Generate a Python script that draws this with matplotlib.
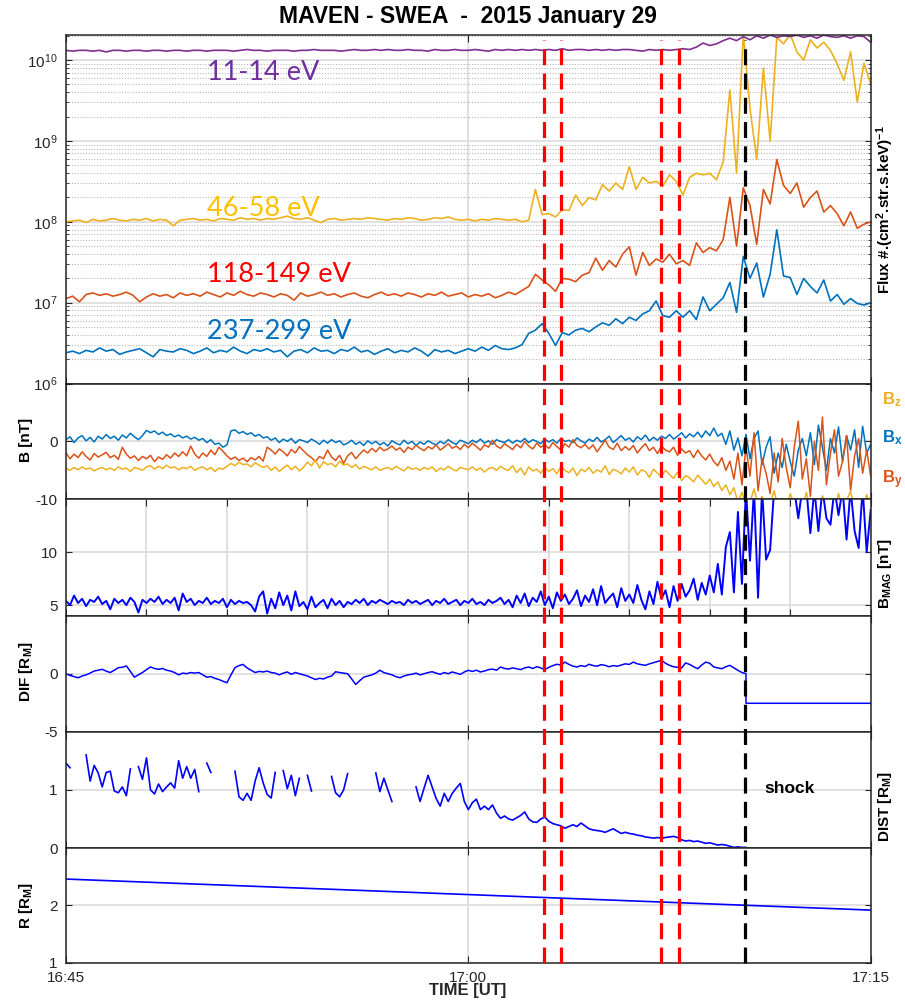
import numpy as np
import matplotlib

matplotlib.use("Agg")
import matplotlib.pyplot as plt
from matplotlib.lines import Line2D
from matplotlib.ticker import FixedLocator, FuncFormatter, LogLocator, LogFormatterMathtext, NullFormatter
from matplotlib.transforms import blended_transform_factory

plt.rcParams["font.family"] = ["Liberation Sans", "DejaVu Sans"]
plt.rcParams["mathtext.default"] = "regular"
plt.rcParams["axes.unicode_minus"] = False

# MATLAB default line colours
C_BLUE = "#0072BD"
C_ORANGE = "#D95319"
C_YELLOW = "#EDB120"
C_PURPLE = "#7E2F8E"
TEXT = "#262626"
GRID = "#dcdcdc"

START_MIN = 16 * 60 + 45   # 16:45 UT
SWEA_STEP = 0.25           # minutes between SWEA samples
MAG_STEP = 0.15            # minutes between MAG samples

# SWEA electron flux, log10 of #/(cm2 str s keV)
log_flux_237_299 = [
    6.38, 6.40, 6.37, 6.41, 6.39, 6.44, 6.40, 6.42, 6.36, 6.39,
    6.41, 6.43, 6.38, 6.33, 6.42, 6.40, 6.39, 6.43, 6.41, 6.37,
    6.40, 6.44, 6.38, 6.41, 6.39, 6.45, 6.40, 6.37, 6.42, 6.40,
    6.43, 6.39, 6.41, 6.33, 6.40, 6.42, 6.38, 6.44, 6.40, 6.41,
    6.37, 6.42, 6.40, 6.45, 6.39, 6.41, 6.36, 6.40, 6.43, 6.38,
    6.41, 6.39, 6.44, 6.40, 6.34, 6.42, 6.39, 6.41, 6.37, 6.40,
    6.43, 6.40, 6.45, 6.41, 6.47, 6.43, 6.42, 6.44, 6.48, 6.62,
    6.66, 6.74, 6.62, 6.47, 6.63, 6.60, 6.66, 6.68, 6.64, 6.70,
    6.75, 6.72, 6.80, 6.74, 6.82, 6.78, 6.86, 6.90, 7.02, 6.84,
    6.82, 6.90, 6.82, 6.90, 6.79, 7.07, 6.90, 6.98, 7.06, 7.25,
    6.88, 7.57, 7.30, 7.49, 7.07, 7.35, 7.90, 7.33, 7.31, 7.10,
    7.30, 7.20, 7.12, 7.28, 7.02, 7.10, 6.98, 7.05, 6.99, 6.97,
    7.00,
]
log_flux_118_149 = [
    7.05, 7.08, 7.01, 7.10, 7.12, 7.09, 7.11, 7.08, 7.10, 7.13,
    7.09, 7.01, 7.07, 7.11, 7.08, 7.10, 7.06, 7.12, 7.09, 7.11,
    7.08, 7.13, 7.10, 7.07, 7.12, 7.09, 7.14, 7.10, 7.08, 7.12,
    7.10, 7.07, 7.11, 7.09, 7.03, 7.12, 7.08, 7.10, 7.13, 7.09,
    7.11, 7.07, 7.10, 7.12, 7.08, 7.06, 7.10, 7.13, 7.09, 7.11,
    7.08, 7.12, 7.10, 7.07, 7.11, 7.09, 7.13, 7.08, 7.10, 7.12,
    7.07, 7.10, 7.08, 7.11, 7.06, 7.09, 7.13, 7.10, 7.15, 7.20,
    7.35, 7.28, 7.22, 7.14, 7.30, 7.29, 7.26, 7.34, 7.37, 7.55,
    7.40, 7.52, 7.44, 7.60, 7.69, 7.34, 7.62, 7.46, 7.54, 7.50,
    7.60, 7.48, 7.52, 7.46, 7.74, 7.62, 7.68, 7.64, 7.78, 8.30,
    7.70, 8.42, 8.20, 7.72, 8.40, 8.22, 8.77, 8.45, 8.35, 8.48,
    8.18, 8.30, 8.38, 8.12, 8.20, 8.10, 7.95, 8.12, 7.92, 7.97,
    8.00,
]
log_flux_46_58 = [
    8.00, 8.01, 8.02, 7.99, 8.03, 8.01, 8.02, 8.04, 8.02, 8.01,
    8.03, 8.02, 8.04, 8.01, 8.03, 8.02, 7.95, 8.02, 8.03, 8.04,
    8.02, 8.03, 8.01, 8.04, 8.03, 8.02, 8.05, 8.03, 8.04, 8.02,
    8.04, 8.03, 8.05, 8.07, 8.04, 8.03, 8.05, 8.02, 7.99, 8.03,
    8.04, 8.02, 8.03, 8.04, 8.03, 8.05, 8.04, 8.03, 8.02, 8.04,
    8.03, 8.05, 8.04, 8.02, 8.03, 8.05, 8.04, 8.06, 8.03, 8.02,
    8.03, 8.01, 8.03, 8.02, 8.04, 8.03, 8.02, 8.03, 8.00, 8.02,
    8.40, 8.09, 8.10, 8.06, 8.15, 8.14, 8.33, 8.20, 8.30, 8.27,
    8.46, 8.38, 8.48, 8.40, 8.68, 8.40, 8.55, 8.48, 8.50, 8.44,
    8.58, 8.50, 8.33, 8.55, 8.60, 8.58, 8.60, 8.52, 8.74, 9.63,
    8.60, 10.32, 9.40, 8.77, 9.90, 9.00, 10.28, 10.20, 10.32, 10.10,
    10.00, 10.25, 10.15, 10.22, 10.12, 9.95, 9.75, 10.10, 9.48, 9.96,
    9.70,
]
log_flux_11_14 = [
    10.12, 10.11, 10.12, 10.12, 10.11, 10.12, 10.10, 10.12, 10.12, 10.11,
    10.12, 10.12, 10.11, 10.12, 10.12, 10.11, 10.12, 10.12, 10.11, 10.12,
    10.12, 10.11, 10.12, 10.12, 10.12, 10.11, 10.12, 10.13, 10.12, 10.12,
    10.11, 10.12, 10.12, 10.12, 10.11, 10.12, 10.12, 10.13, 10.12, 10.12,
    10.12, 10.11, 10.12, 10.13, 10.12, 10.12, 10.13, 10.12, 10.13, 10.12,
    10.12, 10.13, 10.12, 10.12, 10.11, 10.13, 10.12, 10.12, 10.13, 10.12,
    10.12, 10.13, 10.12, 10.11, 10.13, 10.12, 10.13, 10.12, 10.13, 10.12,
    10.13, 10.12, 10.13, 10.12, 10.14, 10.12, 10.13, 10.13, 10.12, 10.13,
    10.12, 10.13, 10.12, 10.13, 10.13, 10.12, 10.11, 10.13, 10.12, 10.13,
    10.12, 10.13, 10.14, 10.13, 10.16, 10.21, 10.18, 10.20, 10.24, 10.27,
    10.24, 10.29, 10.25, 10.30, 10.27, 10.31, 10.28, 10.30, 10.29, 10.31,
    10.28, 10.30, 10.27, 10.31, 10.29, 10.28, 10.30, 10.27, 10.30, 10.29,
    10.22,
]
flux_series = [
    ("237-299 eV", log_flux_237_299, C_BLUE, "#0070C0", 6.64),
    ("118-149 eV", log_flux_118_149, C_ORANGE, "#FF0000", 7.35),
    ("46-58 eV", log_flux_46_58, C_YELLOW, "#FFC000", 8.17),
    ("11-14 eV", log_flux_11_14, C_PURPLE, "#7030A0", 9.85),
]

# MAG field components [nT]
bx = [
    0.3, 0.8, -0.2, 0.6, 1.0, 0.1, 0.7, -0.1, 0.9, 0.4,
    1.2, 0.5, 0.9, 0.2, 1.1, 0.6, 1.4, 0.8, 0.3, 1.0,
    1.9, 1.5, 1.8, 1.2, 1.6, 1.0, 1.3, 0.8, 1.1, 0.6,
    0.9, 0.4, 0.7, 0.2, 0.5, -0.2, 0.3, -0.5, -0.3, -1.0,
    -0.6, 1.8, 2.0, 1.4, 1.7, 1.2, 1.5, 0.9, 1.2, 0.6,
    0.8, 0.2, 0.6, -0.2, 0.4, 0.0, 0.5, -0.3, 0.3, 0.1,
    -0.2, 0.4, 0.0, -0.5, 0.2, -0.3, 0.3, -0.2, 0.1, -0.6,
    -0.3, 0.2, -0.5, -0.1, -0.7, 0.1, -0.4, 0.0, -0.6, -0.2,
    -0.8, 0.1, -0.3, -0.6, 0.2, -0.4, 0.0, -0.7, -0.1, -0.5,
    0.1, -0.3, -0.6, 0.0, -0.4, 0.3, -0.2, -0.5, 0.2, -0.1,
    -0.4, 0.2, -0.2, 0.4, -0.3, 0.1, -0.5, 0.3, 0.0, -0.2,
    0.3, -0.3, 0.2, -0.1, 0.5, -0.2, 0.3, 0.0, -0.4, 0.4,
    -0.1, 0.3, -0.3, 0.5, 0.0, 0.2, -0.2, 0.6, 0.1, -0.3,
    0.4, 0.0, 0.7, -0.1, 0.3, 0.9, -0.2, 0.4, 1.0, 0.2,
    0.6, -0.1, 0.8, 0.3, 1.1, 0.1, 0.7, 0.2, 0.9, 0.5,
    1.2, 0.4, 0.9, 1.5, 0.6, 1.3, 0.8, 1.6, 0.7, 1.8,
    1.0, 2.3, 0.9, 1.4, -0.5, 1.8, -1.5, 0.6, -2.5, 1.2,
    -3.0, 0.5, 1.8, -4.0, -1.0, 0.8, -5.5, -2.0, -4.5, -0.5,
    -3.5, -6.0, -1.5, 0.5, -2.5, 1.5, -4.0, 2.8, -1.0, -5.0,
    0.5, -2.0, 2.5, -3.5, 1.0, -1.5, 2.0, -4.5, 2.6, -2.0,
    -0.5,
]
by = [
    -2.0, -3.0, -2.2, -2.8, -1.8, -2.6, -3.2, -2.1, -2.7, -2.3,
    -1.9, -2.8, -2.4, -3.1, -1.0, -2.2, -2.9, -2.5, -3.3, -2.6,
    -3.0, -2.4, -3.5, -2.7, -3.1, -2.3, -2.9, -2.0, -2.6, -1.8,
    -2.5, -0.8, -2.2, -2.9, -2.0, -2.6, -1.5, -2.3, -1.0, -1.7,
    -2.5, -3.1, -2.7, -3.3, -2.9, -3.5, -2.8, -3.2, -2.6, -3.4,
    -1.0, -1.5, -2.2, -1.3, -1.8, -2.5, -1.4, -2.0, -0.9, -1.6,
    -2.3, -2.8, -3.5, -2.6, -3.0, -1.5, -2.7, -3.3, -2.4, -3.8,
    -2.5, -1.9, -3.0, -2.2, -1.5, -2.0, -1.2, -1.8, -1.0, -1.6,
    -1.3, -0.8, -1.5, -1.1, -1.9, -1.0, -1.4, -0.7, -1.2, -1.6,
    -0.9, -1.3, -0.6, -1.5, -1.0, -0.4, -1.2, -0.8, -1.4, -0.5,
    -1.1, -0.3, -0.9, -1.5, -0.6, -1.0, 0.2, -0.8, -1.2, -0.4,
    -0.9, -1.4, -0.5, -1.1, 0.0, -0.8, -1.3, -0.3, -1.0, -0.6,
    -1.2, -0.2, -0.9, -1.5, -0.4, -1.0, 0.3, -0.7, -1.1, -0.5,
    -1.3, -0.6, -1.8, -0.8, 0.2, -1.0, -1.4, -0.3, -1.6, -0.9,
    -1.5, -0.7, -2.0, -1.1, -0.4, -1.6, -1.0, -2.1, -0.8, -1.5,
    -1.8, -1.0, -2.4, -1.3, -2.0, -1.6, -2.8, -1.5, -2.5, -3.2,
    -2.2, -3.5, -4.2, -2.8, -5.0, -3.4, -6.5, -2.0, -7.5, -1.0,
    -6.0, 1.5, -8.5, -3.0, -5.5, -9.0, -2.0, -7.0, 0.5, -4.5,
    -8.0, -1.0, 3.5, -6.5, -3.0, -9.5, 0.0, -5.0, 4.2, -7.5,
    -2.0, 2.0, -6.0, -3.5, 1.0, -8.5, -2.5, 0.5, -5.5, -1.5,
    -6.0,
]
bz = [
    -4.6, -5.0, -4.5, -4.9, -4.4, -4.8, -4.6, -5.1, -4.7, -4.5,
    -4.9, -4.6, -5.0, -4.4, -4.8, -4.6, -5.2, -4.5, -4.7, -5.0,
    -4.4, -4.2, -4.8, -4.3, -4.7, -4.1, -4.6, -4.4, -4.9, -4.5,
    -4.7, -4.3, -5.0, -4.6, -4.4, -4.9, -4.5, -5.2, -4.6, -4.8,
    -4.3, -3.8, -4.2, -3.6, -4.0, -3.9, -4.4, -3.7, -4.1, -4.5,
    -4.2, -5.0, -4.4, -5.2, -4.6, -4.1, -4.9, -4.3, -5.1, -4.5,
    -3.6, -4.2, -3.2, -4.6, -3.5, -4.0, -3.8, -4.4, -3.4, -4.1,
    -3.9, -4.5, -4.0, -4.8, -4.3, -4.6, -4.9, -4.4, -5.0, -4.7,
    -4.5, -4.9, -4.3, -4.7, -5.1, -4.4, -4.8, -4.6, -5.0, -4.5,
    -4.8, -4.4, -5.2, -4.6, -4.9, -4.3, -4.8, -5.1, -4.5, -4.7,
    -4.9, -4.4, -5.0, -4.6, -5.3, -4.7, -4.5, -5.0, -4.3, -4.8,
    -5.0, -4.2, -5.4, -4.6, -5.8, -4.4, -5.1, -4.8, -5.5, -4.5,
    -5.2, -4.7, -5.6, -4.3, -5.0, -5.4, -4.6, -5.9, -4.8, -5.2,
    -4.5, -5.5, -4.9, -5.3, -4.2, -5.7, -4.8, -5.1, -5.6, -4.6,
    -5.3, -4.4, -5.8, -4.9, -5.2, -6.2, -4.8, -5.5, -6.0, -5.0,
    -5.7, -6.4, -5.3, -6.8, -5.9, -6.3, -7.0, -5.8, -6.6, -7.4,
    -6.5, -7.8, -7.0, -8.5, -7.5, -9.2, -8.0, -10.5, -8.8, -11.0,
    -10.5, -8.2, -11.0, -9.5, -12.0, -10.8, -8.5, -11.5, -10.2, -12.0,
    -9.0, -11.0, -10.5, -12.0, -8.8, -11.5, -10.3, -12.0, -9.4, -11.0,
    -10.5, -12.0, -9.0, -11.5, -10.2, -8.6, -11.8, -10.4, -12.0, -9.2,
    -11.0,
]
b_mag = [
    5.4, 5.0, 5.9, 5.2, 5.6, 4.9, 5.5, 5.3, 5.8, 5.1,
    5.4, 4.6, 5.6, 5.2, 5.5, 5.0, 5.7, 5.3, 4.3, 5.5,
    5.2, 5.6, 5.3, 5.8, 5.1, 5.5, 5.2, 5.7, 4.5, 6.1,
    5.3, 5.6, 5.0, 5.4, 5.2, 5.7, 5.1, 5.4, 5.2, 5.6,
    4.8, 5.5, 5.1, 5.4, 5.2, 5.3, 5.0, 4.4, 5.8, 6.3,
    4.2, 5.6, 4.7, 6.2, 5.0, 5.9, 4.5, 6.3, 4.9, 5.3,
    4.6, 5.8, 4.8, 5.2, 5.5, 4.7, 5.6, 5.0, 5.4, 4.8,
    5.3, 5.1, 5.5, 5.2, 5.6, 5.0, 5.4, 5.2, 5.5, 5.3,
    5.1, 5.4, 5.2, 5.3, 5.0, 5.5, 5.2, 5.4, 5.1, 5.3,
    5.5, 5.0, 5.4, 5.2, 5.6, 5.1, 5.3, 5.5, 5.0, 5.4,
    5.2, 5.6, 5.1, 5.3, 5.0, 5.5, 5.2, 5.4, 5.7, 5.1,
    5.5, 4.8, 5.9, 5.2, 6.1, 4.9, 5.7, 5.3, 6.3, 5.0,
    5.8, 4.7, 6.2, 5.4, 6.0, 5.1, 5.6, 6.4, 4.9, 5.9,
    5.3, 6.5, 5.0, 6.8, 5.2, 5.7, 6.1, 4.8, 6.6, 5.4,
    6.0, 5.2, 6.9, 5.5, 4.6, 6.3, 5.1, 7.2, 5.6, 6.4,
    4.8, 6.8, 5.4, 7.0, 5.8, 6.4, 7.5, 5.5, 7.1, 6.0,
    7.8, 6.2, 8.9, 6.0, 10.5, 11.9, 6.2, 13.8, 7.0, 16.0,
    9.2, 16.0, 5.7, 16.0, 9.3, 10.2, 16.0, 16.0, 16.0, 16.0,
    16.0, 16.0, 13.2, 16.0, 16.0, 11.8, 16.0, 12.0, 16.0, 13.2,
    12.6, 16.0, 13.5, 16.0, 11.2, 16.0, 12.0, 10.4, 16.0, 10.0,
    14.0,
]

# Model comparison, sampled on the MAG cadence up to the shock crossing [R_M]
dif = [
    0.00, -0.15, -0.25, -0.35, -0.20, -0.10, 0.05, 0.23, 0.30, 0.38,
    0.22, 0.10, 0.30, 0.52, 0.55, 0.67, 0.20, -0.30, -0.10, 0.10,
    0.35, 0.58, 0.45, 0.38, 0.45, 0.30, 0.23, 0.10, -0.10, 0.05,
    0.00, 0.10, 0.05, 0.10, -0.10, -0.30, -0.25, -0.40, -0.50, -0.65,
    -0.78, -0.10, 0.52, 0.70, 0.80, 0.50, 0.30, 0.10, 0.20, 0.15,
    0.23, 0.10, 0.05, -0.10, 0.05, 0.15, -0.05, 0.10, 0.00, -0.10,
    -0.20, -0.35, -0.50, -0.40, -0.45, -0.30, -0.20, 0.17, 0.10, 0.05,
    0.00, -0.45, -0.93, -0.60, -0.30, -0.20, -0.10, 0.05, 0.30, 0.10,
    0.00, -0.10, -0.25, -0.35, -0.20, -0.10, -0.05, 0.05, -0.10, 0.00,
    0.10, 0.17, 0.05, -0.05, 0.10, 0.00, 0.15, 0.05, -0.06, 0.15,
    0.29, 0.20, 0.30, 0.15, 0.23, 0.35, 0.40, 0.30, 0.58, 0.45,
    0.40, 0.50, 0.43, 0.35, 0.50, 0.58, 0.45, 0.60, 0.50, 0.35,
    0.55, 0.70, 0.81, 0.75, 1.00, 0.80, 0.65, 0.58, 0.70, 0.62,
    0.81, 0.70, 0.65, 0.78, 0.72, 0.60, 0.70, 0.64, 0.75, 0.85,
    0.80, 1.00, 0.85, 0.78, 0.72, 0.85, 0.95, 1.05, 1.16, 0.90,
    0.72, 0.60, 0.55, 0.49, 0.93, 0.80, 0.60, 0.43, 0.75, 1.00,
    0.90, 0.58, 0.50, 0.43, 0.60, 0.72, 0.50, 0.29, 0.10, 0.00,
]
dif_after_shock = -2.55
nan = np.nan
dist = [
    1.46, 1.38, nan, nan, nan, 1.60, 1.15, 1.42, 1.29, 1.05,
    1.30, 1.32, 0.98, 0.95, 1.05, 0.90, 1.36, nan, 1.40, 1.18,
    1.55, 1.00, 0.93, 1.10, 0.97, 1.05, 1.12, 1.03, 1.50, 1.20,
    1.40, 1.20, 1.35, 0.97, nan, 1.46, 1.30, nan, nan, nan,
    nan, nan, 1.32, 0.88, 0.82, 0.94, 0.82, 1.15, 1.38, 1.12,
    0.92, 0.86, 1.30, nan, 1.33, 1.02, 1.25, 0.90, 1.20, nan,
    1.25, 0.98, nan, nan, nan, nan, 1.23, 0.95, 0.88, 1.00,
    1.28, nan, nan, nan, nan, nan, nan, 1.29, 0.97, 1.20,
    1.00, 0.80, nan, nan, nan, nan, nan, 1.05, 0.80, 1.03,
    1.25, 1.05, 0.85, 0.72, 0.94, 0.80, 0.94, 1.03, 1.11, 0.80,
    0.66, 0.78, 0.84, 0.66, 0.72, 0.66, 0.74, 0.60, 0.51, 0.55,
    0.50, 0.48, 0.52, 0.56, 0.62, 0.50, 0.45, 0.44, 0.50, 0.53,
    0.46, 0.42, 0.40, 0.38, 0.34, 0.37, 0.40, 0.37, 0.43, 0.38,
    0.33, 0.31, 0.30, 0.29, 0.27, 0.30, 0.33, 0.29, 0.25, 0.27,
    0.25, 0.24, 0.22, 0.21, 0.19, 0.18, 0.17, 0.18, 0.17, 0.18,
    0.19, 0.20, 0.18, 0.14, 0.12, 0.13, 0.11, 0.12, 0.10, 0.08,
    0.09, 0.07, 0.05, 0.06, 0.05, 0.03, 0.01, 0.02, 0.01, 0.01,
]

# Radial distance at the start and end of the interval [R_M]
r_time = [0.0, 30.0]
r_dist = [2.46, 1.92]

# Event markers, minutes after 16:45 UT
event_times = [17.81, 18.47, 22.20, 22.87]
shock_time = 25.30

t_swea = np.arange(len(log_flux_11_14)) * SWEA_STEP
t_mag = np.arange(len(bx)) * MAG_STEP
t_model = t_mag[:len(dif)]

W, H = 905, 1001
LEFT, RIGHT = 66, 870.7
edges = [35, 383.5, 499.3, 615.7, 731.7, 848, 963]

fig = plt.figure(figsize=(W / 100, H / 100), dpi=100)
axes = []
for top, bottom in zip(edges[:-1], edges[1:]):
    axes.append(fig.add_axes([LEFT / W, 1 - bottom / H, (RIGHT - LEFT) / W, (bottom - top) / H]))
ax_flux, ax_b, ax_bmag, ax_dif, ax_dist, ax_r = axes


def clock(m, _pos):
    total = START_MIN + int(round(m))
    return f"{total // 60}:{total % 60:02d}"


def style(ax, xticks):
    ax.set_xlim(0, 30)
    ax.xaxis.set_major_locator(FixedLocator(xticks))
    ax.tick_params(which="both", direction="in", top=True, right=True,
                   colors=TEXT, labelsize=11, labelbottom=False)
    ax.tick_params(axis="x", length=5, pad=6)
    ax.tick_params(axis="y", which="major", length=4, pad=6)
    ax.tick_params(axis="y", which="minor", length=2.5)
    ax.grid(True, which="major", color=GRID, lw=1.2)
    ax.set_axisbelow(True)
    for spine in ax.spines.values():
        spine.set_color(TEXT)
        spine.set_linewidth(1.1)


def side_label(ax, text, side, y=0.5):
    x = -0.0497 if side == "left" else 1.0175
    ax.text(x, y, text, transform=ax.transAxes, rotation=90, ha="center", va="center",
            fontsize=11, fontweight="bold", color="black", clip_on=False)


# Electron flux
for name, values, color, label_color, label_y in flux_series:
    ax_flux.plot(t_swea, np.power(10.0, values), color=color, lw=1.2)
    ax_flux.text(5.26, 10 ** label_y, name, color=label_color, fontsize=19.5,
                 family=["Lato", "Open Sans", "DejaVu Sans"], ha="left", va="center")
ax_flux.set_yscale("log")
ax_flux.set_ylim(1e6, 2.04e10)
style(ax_flux, [0, 15, 30])
ax_flux.yaxis.set_major_locator(LogLocator(base=10, numticks=10))
ax_flux.yaxis.set_major_formatter(LogFormatterMathtext())
ax_flux.yaxis.set_minor_locator(LogLocator(base=10, subs=np.arange(2, 10), numticks=10))
ax_flux.yaxis.set_minor_formatter(NullFormatter())
ax_flux.grid(True, which="minor", axis="y", color="#b8b8b8", ls=(0, (1, 1.5)), lw=0.8)
side_label(ax_flux, "Flux #.(cm$^2$.str.s.keV)$^{-1}$", "right")

# Field components
ax_b.plot(t_mag, bx, color=C_BLUE, lw=1.1)
ax_b.plot(t_mag, by, color=C_ORANGE, lw=1.1)
ax_b.plot(t_mag, bz, color=C_YELLOW, lw=1.1)
ax_b.set_ylim(-10, 10)
style(ax_b, [0, 15, 30])
# the +10 tick sits on the flux panel's 10^6 label, so it stays unlabeled
ax_b.set_yticks([-10, 0, 10], ["-10", "0", ""])
side_label(ax_b, "B [nT]", "left", 0.51)
for comp, color, y in [("B$_z$", C_YELLOW, 0.857), ("B$_x$", C_BLUE, 0.529), ("B$_y$", C_ORANGE, 0.167)]:
    ax_b.text(1.014, y, comp, transform=ax_b.transAxes, color=color, fontsize=12,
              fontweight="bold", ha="left", va="center", clip_on=False)

# Field magnitude
ax_bmag.plot(t_mag, b_mag, color="#0000FF", lw=1.4)
ax_bmag.set_ylim(4, 15)
style(ax_bmag, np.arange(0, 31, 3))
ax_bmag.set_yticks([5, 10])
side_label(ax_bmag, "B$_{MAG}$ [nT]", "right", 0.36)

# Difference to model
ax_dif.plot(np.append(t_model, [t_model[-1], 30.0]), dif + [dif_after_shock] * 2,
            color="#0000FF", lw=1.1)
ax_dif.set_ylim(-5, 5)
style(ax_dif, [0, 15, 30])
ax_dif.set_yticks([-5, 0])
side_label(ax_dif, "DIF [R$_M$]", "left", 0.52)

# Distance to model
ax_dist.plot(t_model, dist, color="#0000FF", lw=1.2)
ax_dist.set_ylim(0, 2)
style(ax_dist, [0, 15, 30])
ax_dist.set_yticks([0, 1])
ax_dist.text(26.98, 1.03, "shock", fontsize=12.5, fontweight="bold", ha="center", va="center")
side_label(ax_dist, "DIST [R$_M$]", "right", 0.353)

# Radial distance
ax_r.plot(r_time, r_dist, color="#0000FF", lw=1.2)
ax_r.set_ylim(1, 3)
style(ax_r, [0, 15, 30])
ax_r.set_yticks([1, 2])
ax_r.tick_params(labelbottom=True)
ax_r.xaxis.set_major_formatter(FuncFormatter(clock))
side_label(ax_r, "R [R$_M$]", "left", 0.5)

# Dashed markers spanning all panels
trans = blended_transform_factory(ax_r.transData, fig.transFigure)
y_low, y_high = 1 - edges[-1] / H, 1 - 40 / H
for t in event_times:
    fig.add_artist(Line2D([t, t], [y_low, y_high], transform=trans, color="#FF0000",
                          lw=2.3, dashes=(5, 2.6)))
fig.add_artist(Line2D([shock_time, shock_time], [y_low, y_high], transform=trans,
                      color="black", lw=2.3, dashes=(5, 2.6)))

fig.text(0.517, 0.984, "MAVEN - SWEA  -  2015 January 29", ha="center", va="center",
         fontsize=16.5, fontweight="bold")
fig.text(0.517, 0.010, "TIME [UT]", ha="center", va="center", fontsize=12, fontweight="bold",
         color=TEXT)

fig.savefig("out.png", dpi=100)
